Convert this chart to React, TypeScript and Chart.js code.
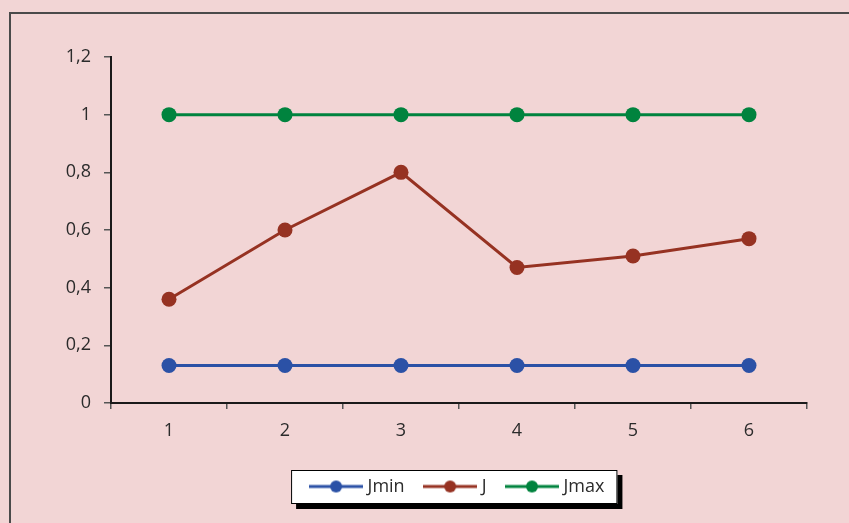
import { useEffect, useRef } from 'react';
import { Chart, registerables } from 'chart.js';

Chart.register(...registerables);

const categories = ['1', '2', '3', '4', '5', '6'];
const jminValues = [0.13, 0.13, 0.13, 0.13, 0.13, 0.13];
const jValues = [0.36, 0.6, 0.8, 0.47, 0.51, 0.57];
const jmaxValues = [1, 1, 1, 1, 1, 1];
const seriesNames = ['Jmin', 'J', 'Jmax'];
const yTickLabels = ['0', '0,2', '0,4', '0,6', '0,8', '1', '1,2'];

const BLUE = '#2b51a6';
const RED = '#963222';
const GREEN = '#00833e';
const PINK = '#f2d5d5';
const TEXT = '#2b2b2b';
const FONT = "'Open Sans', 'Noto Sans', sans-serif";
const FONT_SIZE = 18;

function makeSample(color: string) {
  const c = document.createElement('canvas');
  c.width = 54;
  c.height = 14;
  const ctx = c.getContext('2d')!;
  ctx.strokeStyle = color;
  ctx.lineWidth = 3;
  ctx.beginPath();
  ctx.moveTo(0, 7);
  ctx.lineTo(54, 7);
  ctx.stroke();
  ctx.fillStyle = color;
  ctx.beginPath();
  ctx.arc(27, 7, 6, 0, Math.PI * 2);
  ctx.fill();
  return c;
}

const backgroundPlugin = {
  id: 'bgAndFrame',
  beforeDraw(chart: any) {
    const { ctx, width, height } = chart;
    ctx.save();
    ctx.fillStyle = PINK;
    ctx.fillRect(0, 0, width, height);
    // outer frame
    ctx.strokeStyle = '#4a4a4a';
    ctx.lineWidth = 2;
    ctx.strokeRect(10, 13, width + 20, height + 20);
    // legend box
    const hb = chart.legend && chart.legend.legendHitBoxes;
    if (hb && hb.length) {
      const first = hb[0];
      const last = hb[hb.length - 1];
      const cy = first.top + first.height / 2;
      const left = first.left - 22.5;
      const right = last.left + last.width + 13;
      const top = cy - 16.5;
      const bottom = cy + 17.5;
      ctx.fillStyle = '#000';
      ctx.fillRect(left + 5, top + 5, right - left, bottom - top);
      ctx.fillStyle = '#fff';
      ctx.fillRect(left, top, right - left, bottom - top);
      ctx.strokeStyle = '#000';
      ctx.lineWidth = 1;
      ctx.strokeRect(left + 0.5, top + 0.5, right - left - 1, bottom - top - 1);
    }
    ctx.restore();
  },
};

export default function App() {
  const ref = useRef<HTMLCanvasElement | null>(null);

  useEffect(() => {
    if (!ref.current) return;
    const colors = [BLUE, RED, GREEN];
    const samples = colors.map(makeSample);
    const values = [jminValues, jValues, jmaxValues];
    const chart = new Chart(ref.current, {
      type: 'line',
      data: {
        labels: categories,
        datasets: values.map((v, i) => ({
          label: seriesNames[i],
          data: v,
          borderColor: colors[i],
          backgroundColor: colors[i],
          borderWidth: 3,
          pointRadius: 7.5,
          pointHoverRadius: 7.5,
          pointBorderWidth: 0,
          pointBackgroundColor: colors[i],
          tension: 0,
          fill: false,
        })),
      },
      options: {
        animation: false,
        responsive: false,
        maintainAspectRatio: false,
        layout: { padding: { left: 20, right: 42, top: 57, bottom: 17.5 } },
        plugins: {
          tooltip: { enabled: false },
          legend: {
            position: 'bottom',
            fullSize: false,
            labels: {
              usePointStyle: true,
              pointStyleWidth: 45,
              padding: 23,
              color: TEXT,
              font: { family: FONT, size: FONT_SIZE },
              generateLabels: (c: any) =>
                (Chart.defaults.plugins.legend.labels as any)
                  .generateLabels(c)
                  .map((l: any, i: number) => ({ ...l, pointStyle: samples[i] })),
            },
          },
        },
        scales: {
          x: {
            type: 'category',
            offset: true,
            grid: {
              offset: true,
              drawOnChartArea: false,
              drawTicks: true,
              tickLength: 6,
              color: '#555',
              lineWidth: 1.5,
            },
            border: { color: '#1a1a1a', width: 2 },
            ticks: { padding: 11, color: TEXT, font: { family: FONT, size: FONT_SIZE } },
            afterFit: (s: any) => {
              s.height = 51.5;
            },
          },
          y: {
            min: 0,
            max: 1.2,
            grid: {
              drawOnChartArea: false,
              drawTicks: true,
              tickLength: 7,
              color: '#555',
              lineWidth: 1.5,
            },
            border: { color: '#1a1a1a', width: 2 },
            ticks: {
              stepSize: 0.2,
              padding: 13,
              color: TEXT,
              font: { family: FONT, size: FONT_SIZE },
              callback: (_v: any, i: number) => yTickLabels[i],
            },
            afterFit: (s: any) => {
              s.width = 91;
            },
          },
        },
      } as any,
      plugins: [backgroundPlugin],
    });
    return () => chart.destroy();
  }, []);

  return (
    <div style={{ position: 'fixed', left: 0, top: 0, width: 849, height: 523, background: PINK }}>
      <canvas ref={ref} width={849} height={523} style={{ width: 849, height: 523, display: 'block' }} />
    </div>
  );
}
